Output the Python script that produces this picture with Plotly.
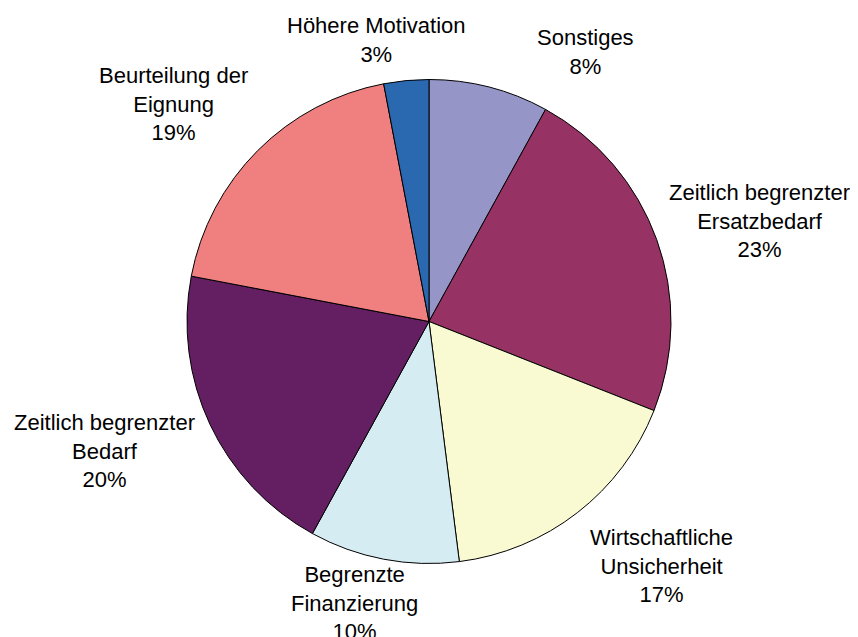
import math
import plotly.graph_objects as go

labels = ["Sonstiges", "Zeitlich begrenzter<br>Ersatzbedarf", "Wirtschaftliche<br>Unsicherheit",
          "Begrenzte<br>Finanzierung", "Zeitlich begrenzter<br>Bedarf", "Beurteilung der<br>Eignung",
          "Höhere Motivation"]
values = [8, 23, 17, 10, 20, 19, 3]
colors = ["#9595c8", "#963264", "#fafad2", "#d4ecf2", "#631f62", "#f08080", "#2a68b0"]

# label placement (layout tuning): angular nudge from slice mid-angle (deg), distance in radii
label_angle_nudge = [15.7, 2.9, -5.7, 4.1, 3.4, -4.6, -5.2]
label_dist = [1.287, 1.429, 1.393, 1.204, 1.442, 1.388, 1.183]

W, H = 858, 637
OFF = 8  # page body margin
cx, cy, r = 429 - OFF, 321.5 - OFF, 242

fig = go.Figure(go.Pie(
    labels=labels, values=values, sort=False, direction="clockwise", rotation=0,
    marker=dict(colors=colors, line=dict(color="black", width=1)),
    textinfo="none", showlegend=False, hoverinfo="skip",
    domain=dict(x=[(cx - r) / W, (cx + r) / W], y=[1 - (cy + r) / H, 1 - (cy - r) / H]),
))

total = sum(values)
cum = 0
for lab, v, nud, d in zip(labels, values, label_angle_nudge, label_dist):
    mid = (cum + v / 2) / total * 360
    cum += v
    a = math.radians(mid + nud)
    px = cx + d * r * math.sin(a)
    py = cy - d * r * math.cos(a)
    fig.add_annotation(x=px / W, y=1 - py / H, xref="paper", yref="paper",
                       text=f"{lab}<br>{v}%", showarrow=False, align="center",
                       xanchor="center", yanchor="middle",
                       font=dict(family="Liberation Sans, Arial, sans-serif", size=22, color="black"))

fig.update_layout(width=W, height=H, margin=dict(l=0, r=0, t=0, b=0),
                  paper_bgcolor="white", plot_bgcolor="white")
fig.write_html("out.html")
